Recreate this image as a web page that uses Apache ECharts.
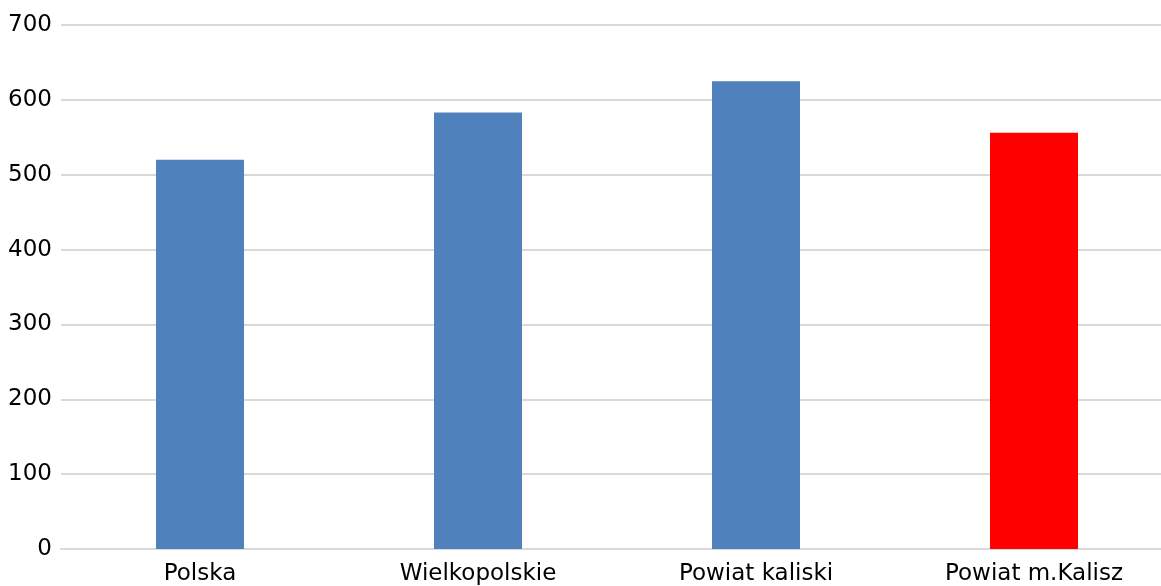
<!DOCTYPE html>
<html>
<head>
<meta charset="utf-8">
<script src="https://cdn.jsdelivr.net/npm/echarts@6/dist/echarts.min.js"></script>
<style>
html,body{margin:0;padding:0;background:#fff;overflow:hidden;width:1161px;height:586px;}
#chart{width:1173px;height:586px;}
</style>
</head>
<body>
<div id="chart"></div>
<script>
const categories = ["Polska", "Wielkopolskie", "Powiat kaliski", "Powiat m.Kalisz"];
const values = [520, 583, 625, 556];
const barColors = ["#4f81bd", "#4f81bd", "#4f81bd", "#ff0000"];
const yTicks = [0, 100, 200, 300, 400, 500, 600, 700];

const chart = echarts.init(document.getElementById('chart'));
chart.setOption({
  animation: false,
  grid: { left: 61, right: 0, top: 25, bottom: 36, containLabel: false },
  xAxis: {
    type: 'category',
    data: categories,
    axisTick: { show: false },
    axisLine: { show: true, lineStyle: { color: '#d9d9d9', width: 2 } },
    axisLabel: { color: '#000', fontFamily: 'DejaVu Sans', fontSize: 23, margin: 14, interval: 0 }
  },
  yAxis: {
    type: 'value',
    min: yTicks[0],
    max: yTicks[yTicks.length - 1],
    interval: 100,
    axisLine: { show: false },
    axisTick: { show: false },
    splitLine: { lineStyle: { color: '#d9d9d9', width: 2 } },
    axisLabel: { color: '#000', fontFamily: 'DejaVu Sans', fontSize: 23, margin: 9 }
  },
  series: [{
    type: 'bar',
    data: values.map((v, i) => ({ value: v, itemStyle: { color: barColors[i] } })),
    barWidth: 88
  }]
});
</script>
</body>
</html>
